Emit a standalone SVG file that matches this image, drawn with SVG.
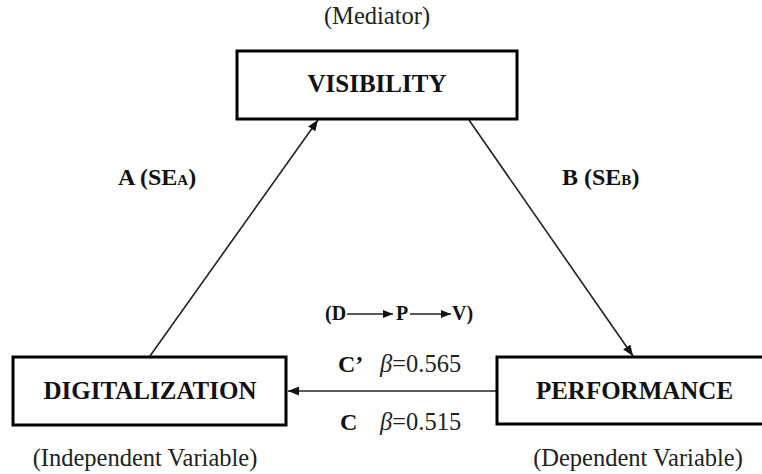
<svg xmlns="http://www.w3.org/2000/svg" width="762" height="474" viewBox="0 0 762 474">
<style>
.box{fill:#fff;stroke:#000;stroke-width:3}
.lbl{font-weight:bold;font-size:25px;fill:#111;text-anchor:middle}
.note{font-size:24.5px;fill:#222;text-anchor:middle}
.pth{font-weight:bold;font-size:24px;fill:#111}
.coef{font-size:24.5px;fill:#222}
.small{font-weight:bold;font-size:20px;fill:#111}
.conn{stroke:#222;stroke-width:1.6;fill:none}
</style>
<defs>
<marker id="ah" viewBox="0 0 10 8" refX="10" refY="4" markerWidth="11" markerHeight="9" markerUnits="userSpaceOnUse" orient="auto">
<path d="M0,0 L10,4 L0,8 z" fill="#111"/>
</marker>
<marker id="ahs" viewBox="0 0 10 8" refX="10" refY="4" markerWidth="10" markerHeight="8" markerUnits="userSpaceOnUse" orient="auto">
<path d="M0,0 L10,4 L0,8 z" fill="#111"/>
</marker>
</defs>
<g id="connectors">
<line class="conn" x1="150" y1="356" x2="318" y2="120" marker-end="url(#ah)"/>
<line class="conn" x1="469" y1="120" x2="633" y2="356" marker-end="url(#ah)"/>
<line class="conn" x1="496" y1="391" x2="288" y2="391" marker-end="url(#ah)"/>
</g>
<g id="visibility">
<text class="note" font-family="'Liberation Serif', serif" x="377" y="24">(Mediator)</text>
<rect class="box" x="237" y="51" width="280" height="68"/>
<text class="lbl" font-family="'Liberation Serif', serif" x="377" y="92">VISIBILITY</text>
</g>
<g id="digitalization">
<rect class="box" x="13" y="357" width="273" height="68"/>
<text class="lbl" font-family="'Liberation Serif', serif" x="150" y="399">DIGITALIZATION</text>
<text class="note" font-family="'Liberation Serif', serif" x="145" y="466">(Independent Variable)</text>
</g>
<g id="performance">
<rect class="box" x="497" y="357" width="280" height="67"/>
<text class="lbl" font-family="'Liberation Serif', serif" x="634.5" y="399">PERFORMANCE</text>
<text class="note" font-family="'Liberation Serif', serif" x="638" y="466">(Dependent Variable)</text>
</g>
<g id="labels">
<text class="pth" font-family="'Liberation Serif', serif" x="118" y="185">A (SE<tspan font-size="15px">A</tspan>)</text>
<text class="pth" font-family="'Liberation Serif', serif" x="562" y="185">B (SE<tspan font-size="15px">B</tspan>)</text>
<text class="small" font-family="'Liberation Serif', serif" x="325" y="320">(D</text>
<line class="conn" x1="347" y1="314" x2="393" y2="314" marker-end="url(#ahs)"/>
<text class="small" font-family="'Liberation Serif', serif" x="396" y="320">P</text>
<line class="conn" x1="410" y1="314" x2="451" y2="314" marker-end="url(#ahs)"/>
<text class="small" font-family="'Liberation Serif', serif" x="452" y="320">V)</text>
<text class="pth" font-family="'Liberation Serif', serif" x="338" y="372">C’</text>
<text class="coef" font-family="'Liberation Serif', serif" x="380" y="372"><tspan font-style="italic">β</tspan>=0.565</text>
<text class="pth" font-family="'Liberation Serif', serif" x="340" y="430">C</text>
<text class="coef" font-family="'Liberation Serif', serif" x="380" y="430"><tspan font-style="italic">β</tspan>=0.515</text>
</g>
</svg>
